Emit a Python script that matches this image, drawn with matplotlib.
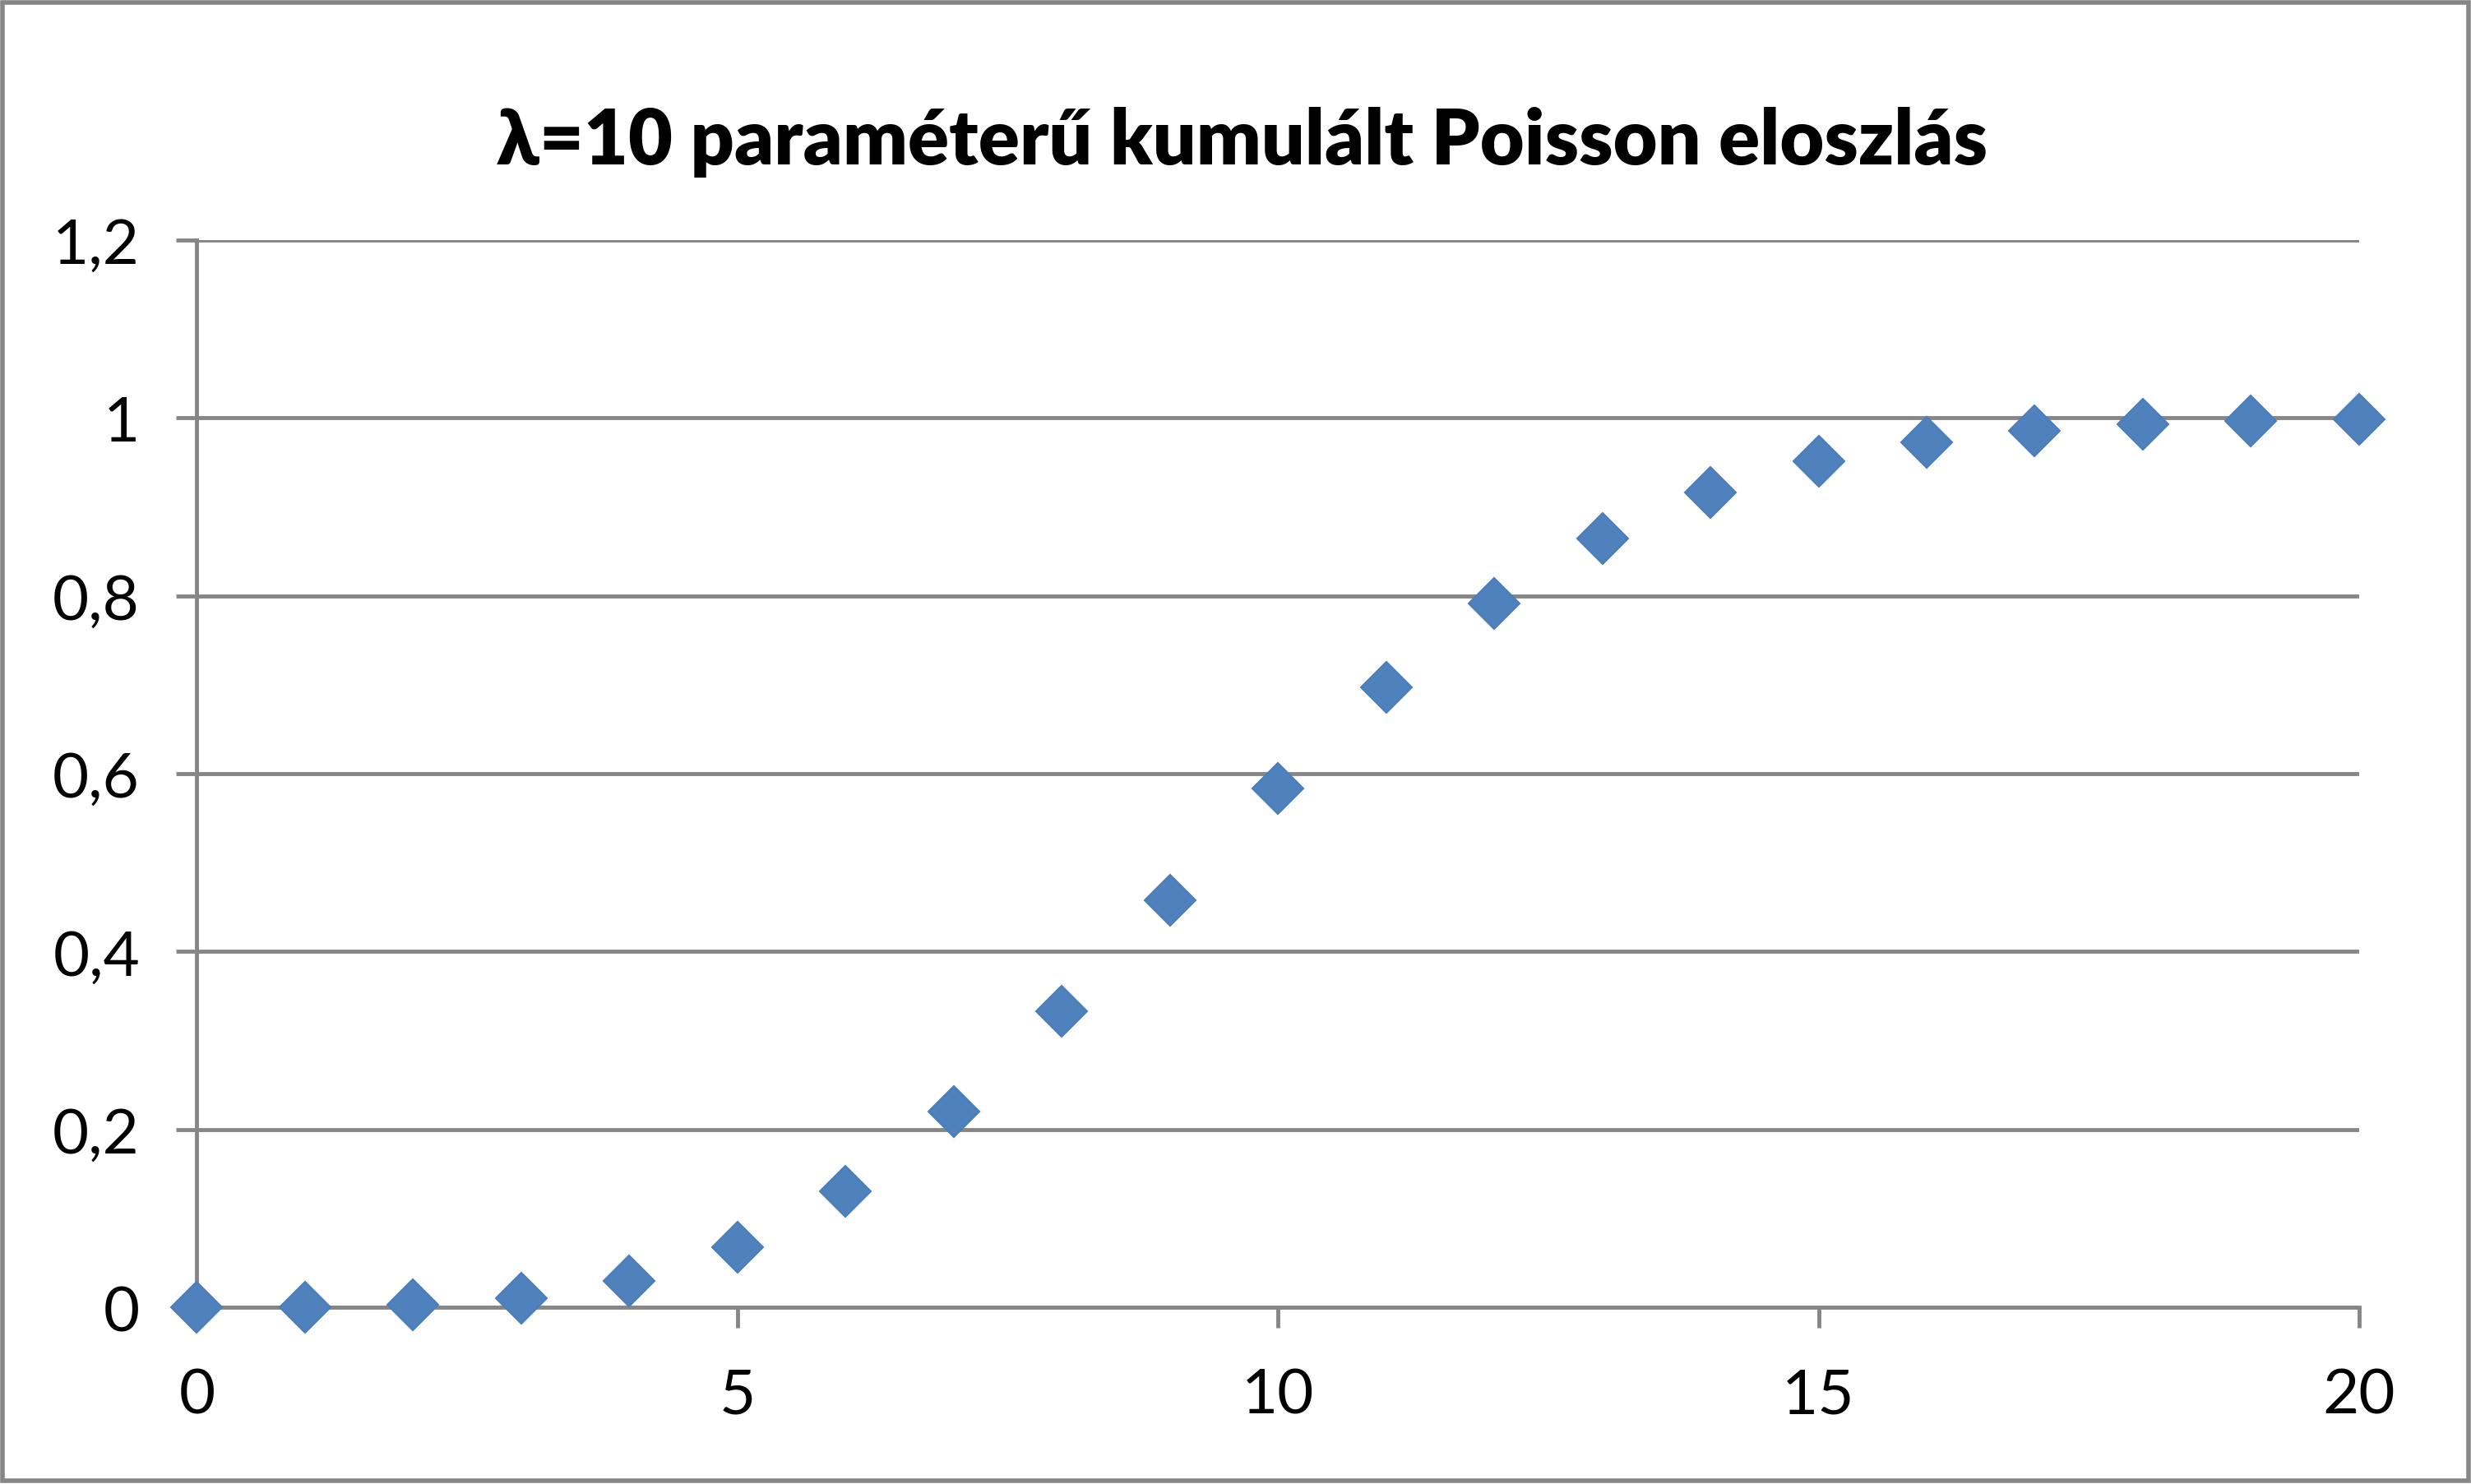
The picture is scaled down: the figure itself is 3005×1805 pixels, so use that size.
import matplotlib
matplotlib.use('Agg')
import numpy as np
from matplotlib import pyplot as plt
from matplotlib.patches import Rectangle

# data
k = [0, 1, 2, 3, 4, 5, 6, 7, 8, 9, 10, 11, 12, 13, 14, 15, 16, 17, 18, 19, 20]
cdf = [0.0000454, 0.0005, 0.0028, 0.0103, 0.0293, 0.0671, 0.1301, 0.2202,
       0.3328, 0.4579, 0.5830, 0.6968, 0.7916, 0.8645, 0.9165, 0.9513,
       0.9730, 0.9857, 0.9928, 0.9965, 0.9984]
x_ticks = [0, 5, 10, 15, 20]
y_ticks = [0, 0.2, 0.4, 0.6, 0.8, 1.0, 1.2]
y_labels = ['0', '0,2', '0,4', '0,6', '0,8', '1', '1,2']
title = 'λ=10 paraméterű kumulált Poisson eloszlás'

plt.rcParams['font.family'] = ['Lato', 'DejaVu Sans']
grey = '#868686'

fig = plt.figure(figsize=(30.05, 18.06), dpi=100)
ax = fig.add_axes([0.0797, 0.119, 0.875, 0.7188])

ax.plot(k, cdf, linestyle='none', marker='D', markersize=32,
        color='#4F81BD', markeredgecolor='#4A7EBB', markeredgewidth=1.5,
        clip_on=False, zorder=3)

ax.set_xlim(0, 20)
ax.set_ylim(0, 1.2)
ax.set_xticks(x_ticks)
ax.set_yticks(y_ticks)
ax.set_yticklabels(y_labels)
ax.grid(axis='y', color=grey, linewidth=3.5)
ax.set_axisbelow(True)

for s in ['top', 'right']:
    ax.spines[s].set_visible(False)
for s in ['left', 'bottom']:
    ax.spines[s].set_color(grey)
    ax.spines[s].set_linewidth(3.5)
    ax.spines[s].set_zorder(2)

ax.tick_params(axis='both', length=18, width=3.5, color=grey, labelsize=55,
               direction='out')
ax.tick_params(axis='y', pad=32)
ax.tick_params(axis='x', pad=34)

fig.text(0.5026, 0.904, title, ha='center', va='center', fontsize=67,
         fontweight='heavy')

# outer chart border
fig.patches.append(Rectangle((0.001, 0.002), 0.998, 0.996, transform=fig.transFigure,
                             fill=False, edgecolor=grey, linewidth=4))

fig.savefig('out.png', dpi=100)
